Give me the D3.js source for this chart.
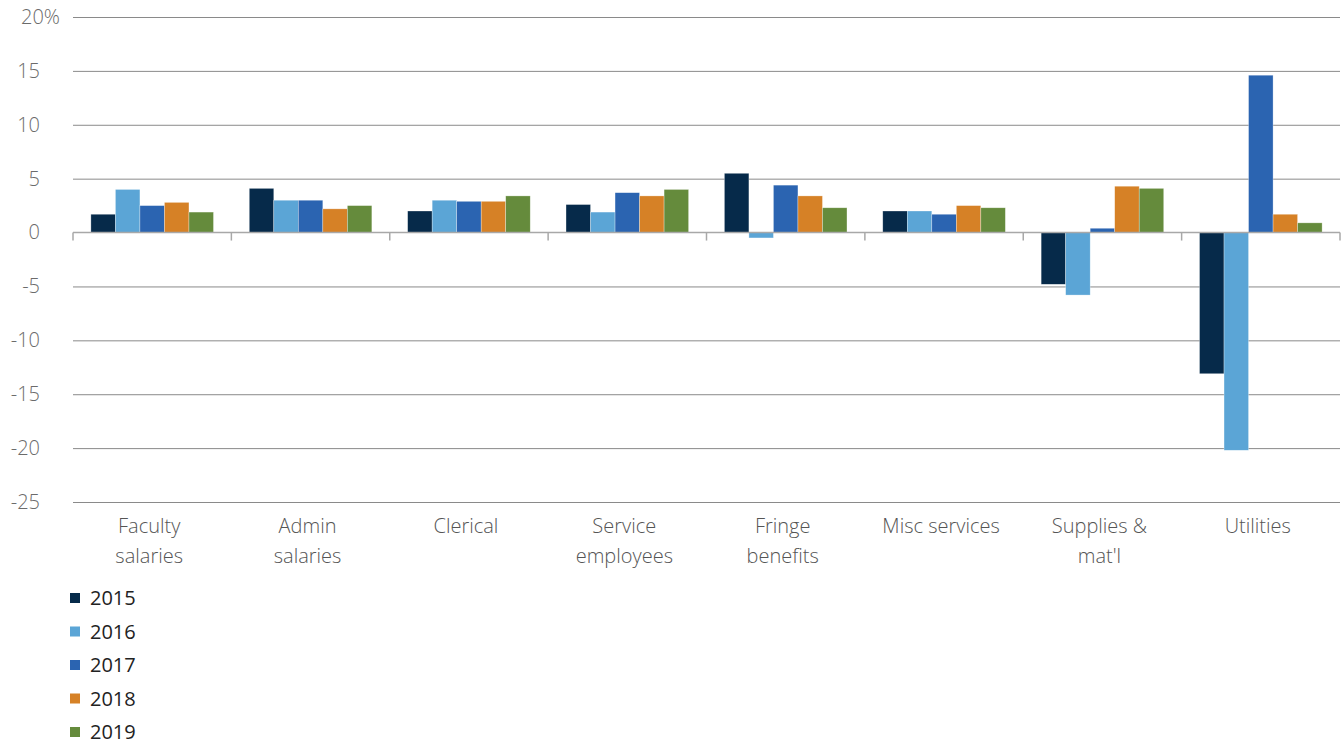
<!DOCTYPE html>
<html>
<head>
<meta charset="utf-8">
<script src="https://cdn.jsdelivr.net/npm/d3@7"></script>
<style>
  body { margin: 0; background: #fff; }
  svg text { font-family: "Open Sans", "Lato", sans-serif; }
</style>
</head>
<body>
<svg width="1343" height="746"></svg>
<script>
const categories = [["Faculty", "salaries"], ["Admin", "salaries"], ["Clerical"], ["Service", "employees"],
                    ["Fringe", "benefits"], ["Misc services"], ["Supplies &", "mat'l"], ["Utilities"]];
const years = ["2015", "2016", "2017", "2018", "2019"];
const colors = ["#062a4a", "#5ba5d6", "#2b64b1", "#d68126", "#658b3c"];

const v2015 = [1.7, 4.1, 2.0, 2.6, 5.5, 2.0, -4.8, -13.1];
const v2016 = [4.0, 3.0, 3.0, 1.9, -0.5, 2.0, -5.8, -20.2];
const v2017 = [2.5, 3.0, 2.9, 3.7, 4.4, 1.7, 0.4, 14.6];
const v2018 = [2.8, 2.2, 2.9, 3.4, 3.4, 2.5, 4.3, 1.7];
const v2019 = [1.9, 2.5, 3.4, 4.0, 2.3, 2.3, 4.1, 0.9];
const series = [v2015, v2016, v2017, v2018, v2019];

const yTicks = [20, 15, 10, 5, 0, -5, -10, -15, -20, -25];

const svg = d3.select("svg");
const plotLeft = 73, plotRight = 1340, plotTop = 17, plotBottom = 502;

const x0 = d3.scaleBand()
             .domain(d3.range(categories.length))
             .range([plotLeft, plotRight])
             .paddingInner(0.226)
             .paddingOuter(0.113);

const x1 = d3.scaleBand()
             .domain(d3.range(years.length))
             .range([0, x0.bandwidth()]);

const y = d3.scaleLinear()
            .domain([-25, 20])
            .range([plotBottom, plotTop]);

// gridlines + y labels
const yAxis = svg.append("g")
                 .attr("transform", `translate(${plotLeft}, 0)`)
                 .call(d3.axisLeft(y)
                         .tickValues(yTicks.filter(t => t !== 0))
                         .tickSize(-(plotRight - plotLeft))
                         .tickPadding(0)
                         .tickFormat(d => d === 20 ? "20%" : d));
yAxis.select(".domain").remove();
yAxis.selectAll(".tick line").attr("stroke", "#8a8a8a").attr("stroke-width", 1);
yAxis.selectAll(".tick text")
     .attr("x", d => d === 20 ? -13 : -33)
     .attr("fill", "#6b6b6b")
     .style("font-size", "20px")
     .style("font-weight", 300);

// zero label
svg.append("text")
   .attr("x", plotLeft - 33)
   .attr("y", y(0))
   .attr("dy", "0.32em")
   .attr("text-anchor", "end")
   .attr("fill", "#6b6b6b")
   .style("font-size", "20px")
   .style("font-weight", 300)
   .text("0");

// bars
const groups = svg.append("g")
                  .selectAll("g")
                  .data(categories.map((c, i) => i))
                  .join("g")
                  .attr("transform", i => `translate(${x0(i)}, 0)`);

groups.selectAll("rect")
      .data(i => series.map((s, k) => ({ k: k, v: s[i] })))
      .join("rect")
      .attr("x", d => x1(d.k))
      .attr("width", x1.bandwidth())
      .attr("y", d => y(Math.max(0, d.v)))
      .attr("height", d => Math.abs(y(d.v) - y(0)))
      .attr("fill", d => colors[d.k])
      .attr("stroke", "#ffffff")
      .attr("stroke-opacity", 0.5)
      .attr("stroke-width", 0.6);

// zero axis with category ticks
const xAxis = svg.append("g")
                 .attr("transform", `translate(0, ${y(0)})`);
xAxis.append("line")
     .attr("x1", plotLeft).attr("x2", plotRight)
     .attr("stroke", "#a8a8a8").attr("stroke-width", 1.5);
const step = x0.step();
xAxis.selectAll("line.tk")
     .data(d3.range(categories.length + 1))
     .join("line")
     .attr("class", "tk")
     .attr("x1", i => x0(0) - x0.paddingOuter() * step + i * step)
     .attr("x2", i => x0(0) - x0.paddingOuter() * step + i * step)
     .attr("y1", 0).attr("y2", 8)
     .attr("stroke", "#a8a8a8").attr("stroke-width", 1.5);

// category labels
const labels = svg.append("g")
                  .selectAll("text")
                  .data(categories)
                  .join("text")
                  .attr("x", (c, i) => x0(i) + x0.bandwidth() / 2 - 3)
                  .attr("y", 533)
                  .attr("text-anchor", "middle")
                  .attr("fill", "#555555")
                  .style("font-size", "20px")
                  .style("font-weight", 300);
labels.selectAll("tspan")
      .data(c => c)
      .join("tspan")
      .attr("x", function() { return this.parentNode.getAttribute("x"); })
      .attr("dy", (t, j) => j === 0 ? 0 : 30)
      .text(t => t);

// legend
const legend = svg.append("g")
                  .selectAll("g")
                  .data(years)
                  .join("g")
                  .attr("transform", (d, i) => `translate(70, ${598 + i * 33.5})`);
legend.append("rect")
      .attr("x", 0).attr("y", -5)
      .attr("width", 10).attr("height", 10)
      .attr("fill", (d, i) => colors[i]);
legend.append("text")
      .attr("x", 20)
      .attr("dy", "0.35em")
      .attr("fill", "#222222")
      .style("font-size", "20px")
      .text(d => d);
</script>
</body>
</html>
